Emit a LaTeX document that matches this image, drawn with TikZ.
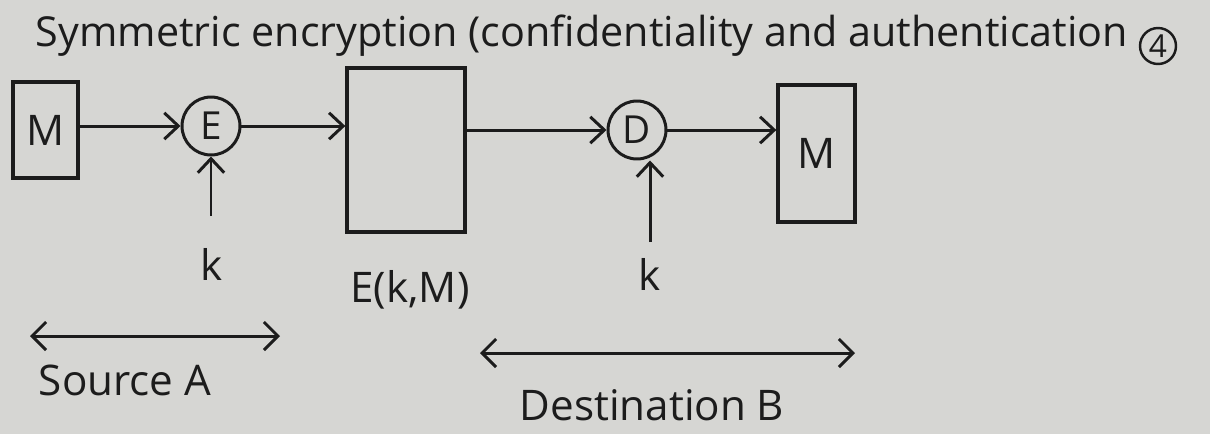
\documentclass[tikz,border=0pt]{standalone}
\usepackage{fontspec}
\setmainfont{Open Sans}
\usetikzlibrary{arrows.meta}
\definecolor{paper}{RGB}{214,214,211}
\definecolor{ink}{RGB}{28,28,28}
\begin{document}
\begin{tikzpicture}[x=0.02cm,y=-0.02cm,
  box/.style={draw=ink, line width=1.9pt, inner sep=0pt, text=ink,
    font=\fontsize{24}{24}\selectfont},
  ring/.style={draw=ink, circle, line width=1.7pt, inner sep=0pt,
    minimum size=1.16cm, text=ink, font=\fontsize{22}{22}\selectfont},
  lbl/.style={text=ink, inner sep=0pt, font=\fontsize{24}{24}\selectfont},
  flow/.style={draw=ink, line width=1.7pt,
    -{Straight Barb[length=8pt,width=15pt,line width=1.7pt]}},
  span/.style={draw=ink, line width=1.7pt,
    {Straight Barb[length=8pt,width=16pt,line width=1.7pt]}-{Straight Barb[length=8pt,width=16pt,line width=1.7pt]}}]
  % paper and picture frame
  \fill[paper] (0,0) rectangle (1210,434);
  \useasboundingbox (0,0) rectangle (1210,434);

  % heading
  \node[lbl, font=\fontsize{23.5}{23.5}\selectfont] (title) at (582,36)
    {Symmetric encryption (confidentiality and authentication};
  \node[draw=ink, circle, line width=1.4pt, inner sep=0pt, minimum size=0.72cm,
    text=ink, font=\fontsize{18}{18}\selectfont] (num) at (1158,46) {4};

  % sender side
  \node[box, minimum width=1.3cm, minimum height=1.92cm] (m1) at (45.5,130) {M};
  \node[ring] (enc) at (211,126) {E};
  \node[lbl] (k1) at (212,264) {k};
  \coordinate (k1tail) at (211,216);

  % ciphertext block
  \node[box, minimum width=2.36cm, minimum height=3.28cm] (ct) at (406,150) {};
  \node[lbl] (ctl) at (410,290) {E(k,M)};

  % receiver side
  \node[ring] (dec) at (637,130) {D};
  \node[lbl] (k2) at (650,274) {k};
  \coordinate (k2tail) at (650,242);
  \node[box, minimum width=1.54cm, minimum height=2.74cm] (m2) at (816.5,153.5) {M};

  % data flow
  \draw[flow] (m1.east |- enc.west) -- (enc.west);
  \draw[flow] (k1tail) -- (k1tail |- enc.south);
  \draw[flow] (enc.east) -- (enc.east -| ct.west);
  \draw[flow] (ct.east |- dec.west) -- (dec.west);
  \draw[flow] (k2tail) -- (k2tail |- dec.south);
  \draw[flow] (dec.east) -- (dec.east -| m2.west);

  % extent of each party
  \coordinate (sa1) at (30,336);
  \coordinate (sa2) at (280,336);
  \coordinate (da1) at (480,353);
  \coordinate (da2) at (855,353);
  \draw[span] (sa1) -- (sa2);
  \draw[span] (da1) -- (da2);
  \node[lbl] (src) at (125,380) {Source A};
  \node[lbl] (dst) at (652,405) {Destination B};
\end{tikzpicture}
\end{document}
